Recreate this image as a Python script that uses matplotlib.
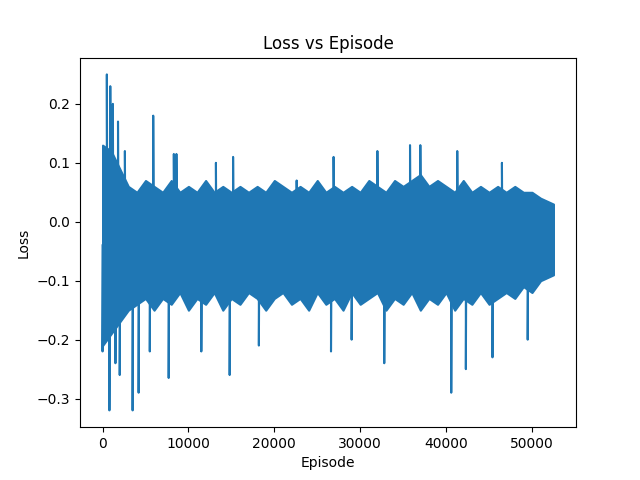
import numpy as np
import matplotlib
matplotlib.use("Agg")
import matplotlib.pyplot as plt

# dense band of the loss trace, read every 1000 episodes (ragged edges)
band_x = list(range(0, 53000, 1000))[:52] + [52500]
band_upper = [0.13, 0.12, 0.09, 0.06, 0.05, 0.07, 0.06, 0.05, 0.07, 0.05, 0.06, 0.05, 0.07, 0.05,
              0.06, 0.05, 0.06, 0.05, 0.06, 0.05, 0.07, 0.06, 0.05, 0.06, 0.05, 0.07, 0.05, 0.06,
              0.05, 0.06, 0.05, 0.07, 0.06, 0.05, 0.07, 0.06, 0.07, 0.08, 0.06, 0.07, 0.06, 0.05,
              0.07, 0.05, 0.06, 0.05, 0.06, 0.05, 0.06, 0.05, 0.05, 0.04, 0.03]
band_lower = [-0.21, -0.19, -0.17, -0.15, -0.14, -0.13, -0.15, -0.13, -0.14, -0.12, -0.15, -0.13,
              -0.14, -0.12, -0.15, -0.13, -0.14, -0.12, -0.13, -0.15, -0.13, -0.12, -0.14, -0.13,
              -0.15, -0.12, -0.14, -0.13, -0.15, -0.12, -0.14, -0.13, -0.12, -0.15, -0.13, -0.14,
              -0.12, -0.15, -0.13, -0.14, -0.12, -0.15, -0.13, -0.14, -0.12, -0.14, -0.13, -0.12,
              -0.13, -0.11, -0.12, -0.10, -0.09]

# isolated spikes outside the band
spike_x = [0, 500, 800, 900, 1200, 1500, 1800, 2000, 2600, 3500, 4200, 5500, 5900, 7700, 8300, 8600,
           11500, 13200, 14800, 15200, 18200, 22600, 26600, 26900, 29000, 32000, 32800, 35800, 37000,
           40600, 41300, 42300, 45400, 46500, 49500]
spike_y = [-0.22, 0.25, -0.32, 0.23, 0.20, -0.24, 0.17, -0.26, 0.12, -0.32, -0.29, -0.22, 0.18, -0.265,
           0.115, 0.115, -0.22, 0.10, -0.26, 0.11, -0.21, 0.07, -0.22, 0.11, -0.20, 0.12, -0.24, 0.13,
           0.13, -0.29, 0.12, -0.25, -0.23, 0.10, -0.20]
base_level = -0.04

color = "#1f77b4"
fig, ax = plt.subplots(figsize=(6.4, 4.8), dpi=100)
ax.fill_between(band_x, band_lower, band_upper, color=color, linewidth=1.5)

sx, sy = [], []
for x, y in zip(spike_x, spike_y):
    sx += [x, x, x + 60]
    sy += [base_level, y, base_level]
ax.plot(sx, sy, color=color, linewidth=1.5)

ax.set_title("Loss vs Episode")
ax.set_xlabel("Episode")
ax.set_ylabel("Loss")
fig.savefig("out.png")
